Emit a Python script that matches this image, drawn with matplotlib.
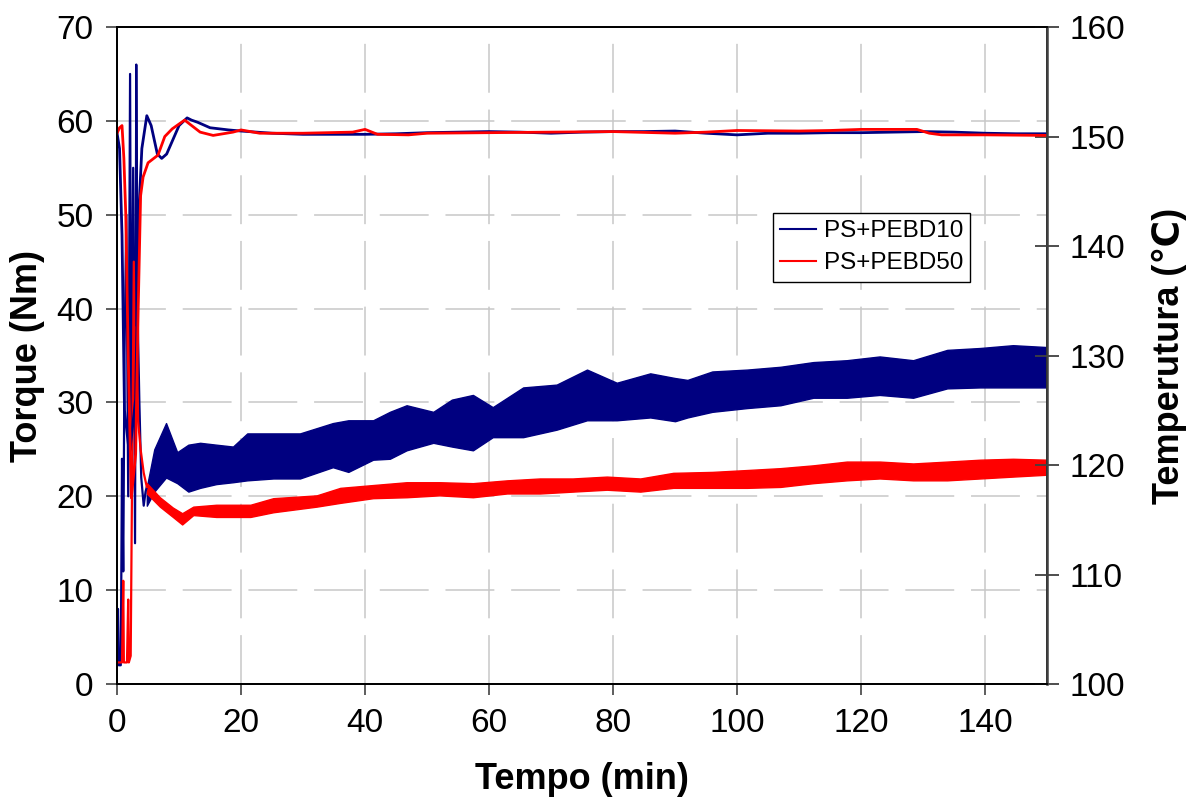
import matplotlib
matplotlib.use("Agg")
import matplotlib.pyplot as plt
from matplotlib.lines import Line2D

plt.rcParams['font.family'] = ['Liberation Sans', 'DejaVu Sans']

# ---------------- data ----------------
# Torque start-up spikes (min, Nm)
t_spk_10 = [0, 0.15, 0.3, 0.6, 0.8, 1.0, 1.2, 1.5, 1.8, 2.1, 2.3, 2.6, 2.9, 3.1, 3.3, 3.6, 3.9, 4.3, 4.6, 4.8]
q_spk_10 = [2, 8, 2, 2, 24, 12, 35, 50, 20, 65, 25, 55, 15, 66, 40, 30, 22, 19, 20.5, 21]
t_spk_50 = [0, 0.8, 1.0, 1.1, 1.6, 1.8, 1.9, 2.2, 2.4, 2.7, 2.9, 3.1, 3.4, 3.8, 4.3, 4.8]
q_spk_50 = [2.3, 2.3, 11, 2.3, 2.3, 9, 2.3, 3, 20, 45, 30, 38, 28, 25, 22.5, 21]

# Torque noisy band after loading (min, lower / upper envelope in Nm)
t_band_10 = [4.8, 6.0, 7.9, 9.7, 11.5, 13.4, 16, 18.7, 21, 25.2, 29.5, 34.8, 37.3, 41.3, 44,
             46.7, 51, 54, 57.4, 60.6, 65.5, 70.9, 75.8, 80.6, 86, 90, 92, 96, 101.6, 107,
             112.3, 117.7, 123, 128.4, 133.9, 139.2, 144.5, 150]
up_10 = [21, 25, 27.8, 24.7, 25.5, 25.7, 25.5, 25.3, 26.7, 26.7, 26.7, 27.8, 28.1, 28.1, 29.0,
         29.7, 29.0, 30.3, 30.8, 29.5, 31.6, 31.9, 33.5, 32.1, 33.1, 32.6, 32.4, 33.3, 33.5, 33.8,
         34.3, 34.5, 34.9, 34.5, 35.6, 35.8, 36.1, 35.9]
lo_10 = [19, 20.5, 22, 21.4, 20.5, 20.9, 21.3, 21.5, 21.7, 21.9, 21.9, 23.1, 22.6, 23.9, 24.0,
         24.9, 25.7, 25.3, 24.9, 26.3, 26.3, 27.1, 28.1, 28.1, 28.4, 28.0, 28.4, 29.0, 29.4, 29.7,
         30.5, 30.5, 30.8, 30.5, 31.5, 31.6, 31.6, 31.6]

t_band_50 = [4.8, 6.9, 9.0, 10.5, 12.3, 16, 21.5, 25.2, 32.2, 36, 41.3, 46.7, 52, 57.4, 62.9,
             68.2, 73.5, 79, 84.4, 89.7, 96, 101.6, 107, 112.3, 117.7, 123, 128.4, 133.9, 139.2,
             144.5, 150]
up_50 = [21.4, 19.9, 18.8, 18.2, 18.9, 19.1, 19.1, 19.8, 20.1, 20.9, 21.2, 21.5, 21.5, 21.4, 21.7,
         21.9, 21.9, 22.1, 21.9, 22.5, 22.6, 22.8, 23.0, 23.3, 23.7, 23.7, 23.5, 23.7, 23.9,
         24.0, 23.9]
lo_50 = [20.3, 18.9, 17.8, 17.0, 18.0, 17.8, 17.8, 18.3, 18.9, 19.3, 19.8, 19.9, 20.1, 19.9, 20.3,
         20.3, 20.5, 20.7, 20.5, 20.9, 20.9, 20.9, 21.0, 21.4, 21.7, 21.9, 21.7, 21.7, 21.9,
         22.1, 22.3]

# Temperature (min, degC)
t_temp_10 = [0, 0.4, 0.8, 1.2, 2.0, 3.0, 3.5, 4.0, 4.8, 5.5, 6.5, 7.2, 8, 9, 10, 11.3, 12, 13, 15,
             18, 20, 25, 30, 35, 40, 45, 50, 55, 60, 65, 70, 75, 80, 85, 90, 95, 100, 105, 110,
             115, 120, 125, 130, 135, 140, 145, 150]
T_10 = [150.3, 148.9, 141, 125, 121, 126, 143, 148.9, 151.9, 151.0, 148.4, 148.0, 148.4, 149.7,
        151.0, 151.7, 151.5, 151.3, 150.8, 150.6, 150.5, 150.3, 150.2, 150.2, 150.2, 150.25,
        150.35, 150.4, 150.45, 150.4, 150.3, 150.4, 150.45, 150.45, 150.5, 150.3, 150.15, 150.3,
        150.3, 150.35, 150.35, 150.4, 150.45, 150.4, 150.3, 150.25, 150.25]
t_temp_50 = [0, 0.4, 0.8, 1.1, 1.4, 1.8, 2.3, 3.0, 3.4, 3.8, 4.2, 5.0, 6.6, 7.7, 8.9, 10.9, 11.8,
             13.4, 15.5, 18.7, 20, 23, 30, 38, 40, 42, 47, 50, 60, 70, 80, 90, 95, 100, 110, 115,
             120, 125, 129, 131, 133, 140, 150]
T_50 = [150.3, 150.8, 151.0, 148, 143, 130, 117, 121, 134, 144.6, 146.3, 147.6, 148.3, 150.0,
        150.7, 151.5, 151.1, 150.4, 150.1, 150.4, 150.6, 150.3, 150.3, 150.4, 150.65, 150.2,
        150.15, 150.3, 150.35, 150.4, 150.45, 150.3, 150.4, 150.55, 150.5, 150.55, 150.65,
        150.65, 150.65, 150.3, 150.15, 150.15, 150.1]

labels = ["PS+PEBD10", "PS+PEBD50"]
colors = ["#000080", "#ff0000"]

x_ticks = [0, 20, 40, 60, 80, 100, 120, 140]
y_ticks = [0, 10, 20, 30, 40, 50, 60, 70]
y2_ticks = [100, 110, 120, 130, 140, 150, 160]

# ---------------- figure ----------------
fig = plt.figure(figsize=(11.92, 7.99), dpi=100)
ax = fig.add_axes([0.0982, 0.1439, 0.7802, 0.8223])
ax2 = ax.twinx()

# torque
ax.plot(t_spk_10, q_spk_10, color=colors[0], lw=1.6)
ax.plot(t_spk_50, q_spk_50, color=colors[1], lw=1.6)
ax.fill_between(t_band_10, lo_10, up_10, color=colors[0], lw=1.0, edgecolor=colors[0])
ax.fill_between(t_band_50, lo_50, up_50, color=colors[1], lw=1.0, edgecolor=colors[1])

# temperature
ax2.plot(t_temp_10, T_10, color=colors[0], lw=2.0)
ax2.plot(t_temp_50, T_50, color=colors[1], lw=2.0)

ax.set_xlim(0, 150)
ax.set_ylim(0, 70)
ax2.set_ylim(100, 160)
ax.set_xticks(x_ticks)
ax.set_yticks(y_ticks)
ax2.set_yticks(y2_ticks)

ax.grid(True, color="#c8c8c8", lw=1.1, linestyle=(0, (32, 11)))
ax.set_axisbelow(True)

for a in (ax, ax2):
    for s in a.spines.values():
        s.set_linewidth(1.3)
        s.set_color("black")
ax2.spines['right'].set_color("#404040")
ax2.spines['right'].set_linewidth(1.8)

ax.tick_params(axis='both', labelsize=24, direction='out', length=8, width=1.3, pad=9,
               colors="#505050", labelcolor="black")
ax2.tick_params(axis='y', labelsize=24, direction='inout', length=17, width=1.3, pad=8,
                colors="#404040", labelcolor="black")

ax.set_xlabel("Tempo (min)", fontsize=26, fontweight='bold', labelpad=17)
ax.set_ylabel("Torque (Nm)", fontsize=26, fontweight='bold', labelpad=8)
ax2.set_ylabel("Temperutura (\u2103)", fontsize=26, fontweight='bold', labelpad=19)

handles = [Line2D([], [], color=colors[0], lw=1.5), Line2D([], [], color=colors[1], lw=1.5)]
leg = ax2.legend(handles, labels, loc='upper left', bbox_to_anchor=(0.705, 0.717),
                 fontsize=17.5, frameon=True, fancybox=False, framealpha=1,
                 edgecolor='black', handlelength=1.5, handletextpad=0.3,
                 borderpad=0.3, labelspacing=0.42, borderaxespad=0)
leg.get_frame().set_linewidth(1.0)

fig.savefig("out.png", dpi=100)
